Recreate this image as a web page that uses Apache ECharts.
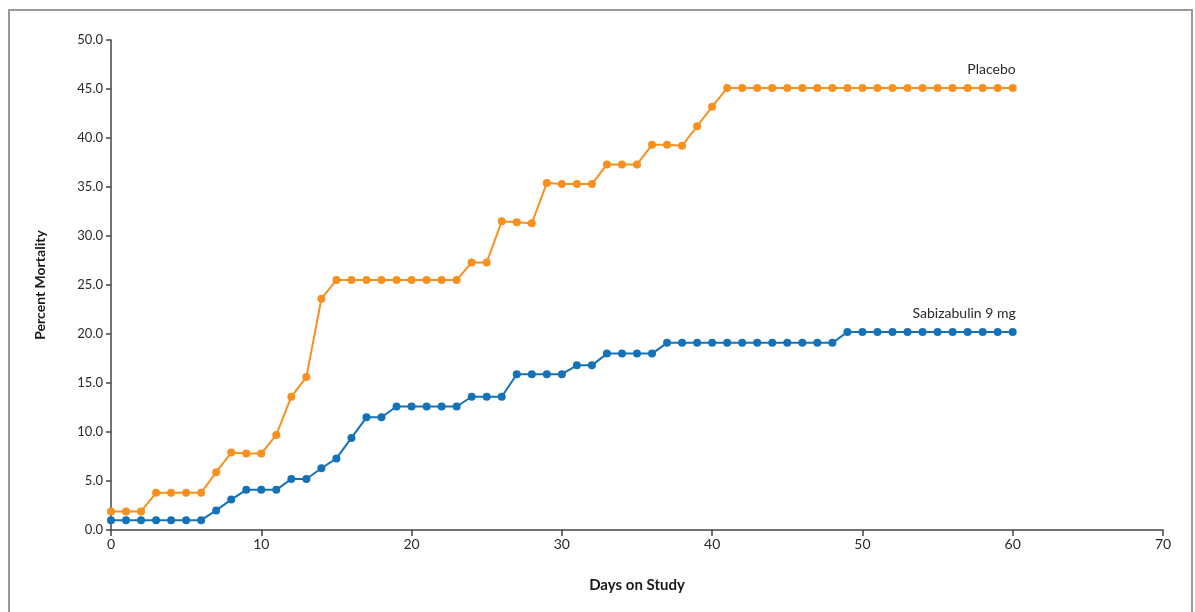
<!DOCTYPE html>
<html>
<head>
<meta charset="utf-8">
<script src="https://cdn.jsdelivr.net/npm/echarts@6/dist/echarts.min.js"></script>
<style>
html,body{margin:0;padding:0;background:#fff;}
#c{width:1195px;height:612px;}
</style>
</head>
<body>
<div id="c"></div>
<script>
const days = [0,1,2,3,4,5,6,7,8,9,10,11,12,13,14,15,16,17,18,19,20,21,22,23,24,25,26,27,28,29,30,31,32,33,34,35,36,37,38,39,40,41,42,43,44,45,46,47,48,49,50,51,52,53,54,55,56,57,58,59,60];
const placebo = [1.9,1.9,1.9,3.8,3.8,3.8,3.8,5.9,7.9,7.8,7.8,9.7,13.6,15.6,23.6,25.5,25.5,25.5,25.5,25.5,25.5,25.5,25.5,25.5,27.3,27.3,31.5,31.4,31.3,35.4,35.3,35.3,35.3,37.3,37.3,37.3,39.3,39.3,39.2,41.2,43.2,45.1,45.1,45.1,45.1,45.1,45.1,45.1,45.1,45.1,45.1,45.1,45.1,45.1,45.1,45.1,45.1,45.1,45.1,45.1,45.1];
const sabizabulin = [1.0,1.0,1.0,1.0,1.0,1.0,1.0,2.0,3.1,4.1,4.1,4.1,5.2,5.2,6.3,7.3,9.4,11.5,11.5,12.6,12.6,12.6,12.6,12.6,13.6,13.6,13.6,15.9,15.9,15.9,15.9,16.8,16.8,18.0,18.0,18.0,18.0,19.1,19.1,19.1,19.1,19.1,19.1,19.1,19.1,19.1,19.1,19.1,19.1,20.2,20.2,20.2,20.2,20.2,20.2,20.2,20.2,20.2,20.2,20.2,20.2];
const seriesNames = ['Placebo','Sabizabulin 9 mg'];
const xTitle = 'Days on Study';
const yTitle = 'Percent Mortality';

const FONT = 'Lato, "Open Sans", sans-serif';
function build(vals, name) {
  return vals.map((v, i) => {
    const item = {value: [days[i], v]};
    if (i === vals.length - 1) {
      item.label = {show: true, formatter: name, position: 'top', align: 'right',
        offset: [3, -3], color: '#2a2a2a', fontSize: 14, fontFamily: FONT};
    }
    return item;
  });
}
const chart = echarts.init(document.getElementById('c'), null, {renderer: 'canvas'});
chart.setOption({
  animation: false,
  backgroundColor: '#fff',
  graphic: [{
    type: 'rect', silent: true,
    shape: {x: 9, y: 10, width: 1183, height: 640},
    style: {fill: 'none', stroke: '#9a9a9a', lineWidth: 2}
  }],
  grid: {left: 111, right: 32, top: 40, bottom: 82, containLabel: false},
  xAxis: {
    type: 'value', min: 0, max: 70, interval: 10,
    name: xTitle, nameLocation: 'middle', nameGap: 48,
    nameTextStyle: {fontFamily: FONT, fontWeight: 'bold', fontSize: 15, color: '#1a1a1a'},
    axisLine: {show: true, lineStyle: {color: '#444', width: 1.5}},
    axisTick: {show: true, length: 6, lineStyle: {color: '#444', width: 1.5}},
    axisLabel: {fontFamily: FONT, fontSize: 14, color: '#2a2a2a', margin: 7},
    splitLine: {show: false}
  },
  yAxis: {
    type: 'value', min: 0, max: 50, interval: 5,
    name: yTitle, nameLocation: 'middle', nameGap: 64, nameRotate: 90,
    nameTextStyle: {fontFamily: FONT, fontWeight: 'bold', fontSize: 14, color: '#1a1a1a'},
    axisLine: {show: true, lineStyle: {color: '#444', width: 1.5}},
    axisTick: {show: true, length: 5, lineStyle: {color: '#444', width: 1.5}},
    axisLabel: {fontFamily: FONT, fontSize: 13, color: '#2a2a2a', margin: 8,
      formatter: v => v.toFixed(1)},
    splitLine: {show: false}
  },
  series: [
    {name: seriesNames[0], type: 'line', data: build(placebo, seriesNames[0]),
     symbol: 'circle', symbolSize: 8, color: '#F7901E',
     lineStyle: {width: 2, color: '#F7901E'}, itemStyle: {color: '#F7901E'}},
    {name: seriesNames[1], type: 'line', data: build(sabizabulin, seriesNames[1]),
     symbol: 'circle', symbolSize: 8, color: '#1572B6',
     lineStyle: {width: 2, color: '#1572B6'}, itemStyle: {color: '#1572B6'}}
  ]
});
</script>
</body>
</html>
